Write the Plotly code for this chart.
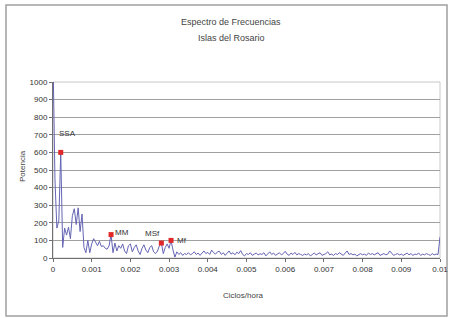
import plotly.graph_objects as go

# ---- data ----
freq_step = 0.00005  # cycles/hour between spectral estimates
power = [
    1150, 450, 170, 210, 600, 60, 170, 130, 175, 110,
    240, 280, 190, 285, 150, 250, 60, 30, 100, 30,
    80, 110, 90, 70, 95, 65, 70, 55, 50, 70,
    133, 30, 85, 40, 70, 55, 80, 40, 25, 70,
    80, 35, 60, 75, 40, 20, 55, 75, 45, 30,
    60, 70, 35, 25, 40, 70, 85, 25, 60, 80,
    55, 100, 45, 5, 35, 20, 30, 15, 25, 20,
    30, 18, 25, 35, 20, 28, 15, 30, 40, 25,
    32, 20, 45, 30, 22, 35, 38, 20, 30, 15,
    28, 40, 22, 30, 18, 33, 25, 42, 20, 12,
    25, 20, 30, 15, 22, 28, 18, 24, 20, 30,
    12, 26, 35, 20, 28, 15, 22, 30, 18, 25,
    38, 22, 15, 28, 20, 32, 18, 25, 20, 15,
    22, 18, 25, 12, 20, 28, 18, 22, 30, 15,
    20, 25, 35, 18, 22, 15, 25, 20, 30, 22,
    15, 28, 40, 20, 25, 18, 22, 12, 20, 25,
    18, 22, 15, 28, 20, 25, 18, 22, 30, 15,
    20, 25, 18, 22, 40, 28, 15, 20, 25, 18,
    22, 15, 20, 28, 18, 25, 15, 22, 20, 28,
    15, 22, 18, 25, 20, 15, 25, 18, 22, 20,
    120,
]
freq = [i * freq_step for i in range(len(power))]

const_names = ["SSA", "MM", "MSf", "Mf"]
const_freq = [0.0002, 0.0015, 0.0028, 0.00305]
const_power = [600, 133, 85, 100]

x_ticks = [0, 0.001, 0.002, 0.003, 0.004, 0.005, 0.006, 0.007, 0.008, 0.009, 0.01]
x_tick_labels = ["0", "0.001", "0.002", "0.003", "0.004", "0.005", "0.006",
                 "0.007", "0.008", "0.009", "0.01"]
y_ticks = [0, 100, 200, 300, 400, 500, 600, 700, 800, 900, 1000]

title_lines = ["Espectro de Frecuencias", "Islas del Rosario"]
x_title = "Ciclos/hora"
y_title = "Potencia"

# ---- figure ----
FONT = "Liberation Sans, Arial, sans-serif"
fig = go.Figure()
fig.add_trace(go.Scatter(
    x=freq, y=power, mode="lines",
    line=dict(color="#6464b4", width=1),
    hoverinfo="skip", showlegend=False, cliponaxis=True,
))
fig.add_trace(go.Scatter(
    x=const_freq, y=const_power, mode="markers",
    marker=dict(symbol="square", size=5, color="#e02828"),
    showlegend=False,
))

label_shifts = {"SSA": (7, 19), "MM": (11, 2), "MSf": (-9, 10), "Mf": (11, 0)}
for n, fx, py in zip(const_names, const_freq, const_power):
    dx, dy = label_shifts[n]
    fig.add_annotation(x=fx, y=py, xref="x", yref="y", text=n, showarrow=False,
                       xshift=dx, yshift=dy, xanchor="center", yanchor="middle",
                       font=dict(family=FONT, size=8, color="#333"))

def px_x(p):
    return (p - 53) / 387

def px_y(p):
    return (258 - p) / 176

# titles
fig.add_annotation(x=px_x(231), y=px_y(22), xref="paper", yref="paper", text=title_lines[0],
                   showarrow=False, xanchor="center", yanchor="middle",
                   font=dict(family=FONT, size=9, color="#444"))
fig.add_annotation(x=px_x(231), y=px_y(38), xref="paper", yref="paper", text=title_lines[1],
                   showarrow=False, xanchor="center", yanchor="middle",
                   font=dict(family=FONT, size=9, color="#444"))
fig.add_annotation(x=px_x(243), y=px_y(295), xref="paper", yref="paper",
                   text=x_title, showarrow=False, xanchor="center", yanchor="middle",
                   font=dict(family=FONT, size=8, color="#444"))
fig.add_annotation(x=px_x(22), y=px_y(166), xref="paper", yref="paper",
                   text=y_title, textangle=-90, showarrow=False,
                   xanchor="center", yanchor="middle",
                   font=dict(family=FONT, size=8, color="#444"))

# outer chart border and plot-area border
fig.add_shape(type="rect", xref="paper", yref="paper",
              x0=px_x(6), x1=px_x(447), y0=px_y(316), y1=px_y(5),
              line=dict(color="#a0a0a0", width=1.5), layer="below")
fig.add_shape(type="rect", xref="paper", yref="paper", x0=0, x1=1, y0=0, y1=1,
              line=dict(color="#c8c8c8", width=1), layer="below")

fig.update_xaxes(range=[0, 0.01], tickvals=x_ticks, ticktext=x_tick_labels,
                 showgrid=False, zeroline=False, showline=True, linecolor="#707070",
                 linewidth=1, ticks="outside", ticklen=3, tickcolor="#707070",
                 automargin=False,
                 tickfont=dict(family=FONT, size=8, color="#333"))
fig.update_yaxes(range=[0, 1000], tickvals=y_ticks, showgrid=True, gridcolor="#a0a0a0",
                 gridwidth=1, zeroline=False, showline=True, linecolor="#707070",
                 linewidth=1, ticks="outside", ticklen=3, tickcolor="#707070",
                 automargin=False,
                 tickfont=dict(family=FONT, size=8, color="#333"))

fig.update_layout(
    width=452, height=318, autosize=False,
    margin=dict(l=53, r=12, t=82, b=60),
    paper_bgcolor="white", plot_bgcolor="white",
    font=dict(family=FONT, size=8, color="#333"),
)

fig.write_html(
    "out.html",
    config={"responsive": False, "displayModeBar": False},
    post_script="document.body.style.margin='0';document.body.style.overflow='hidden';",
)
